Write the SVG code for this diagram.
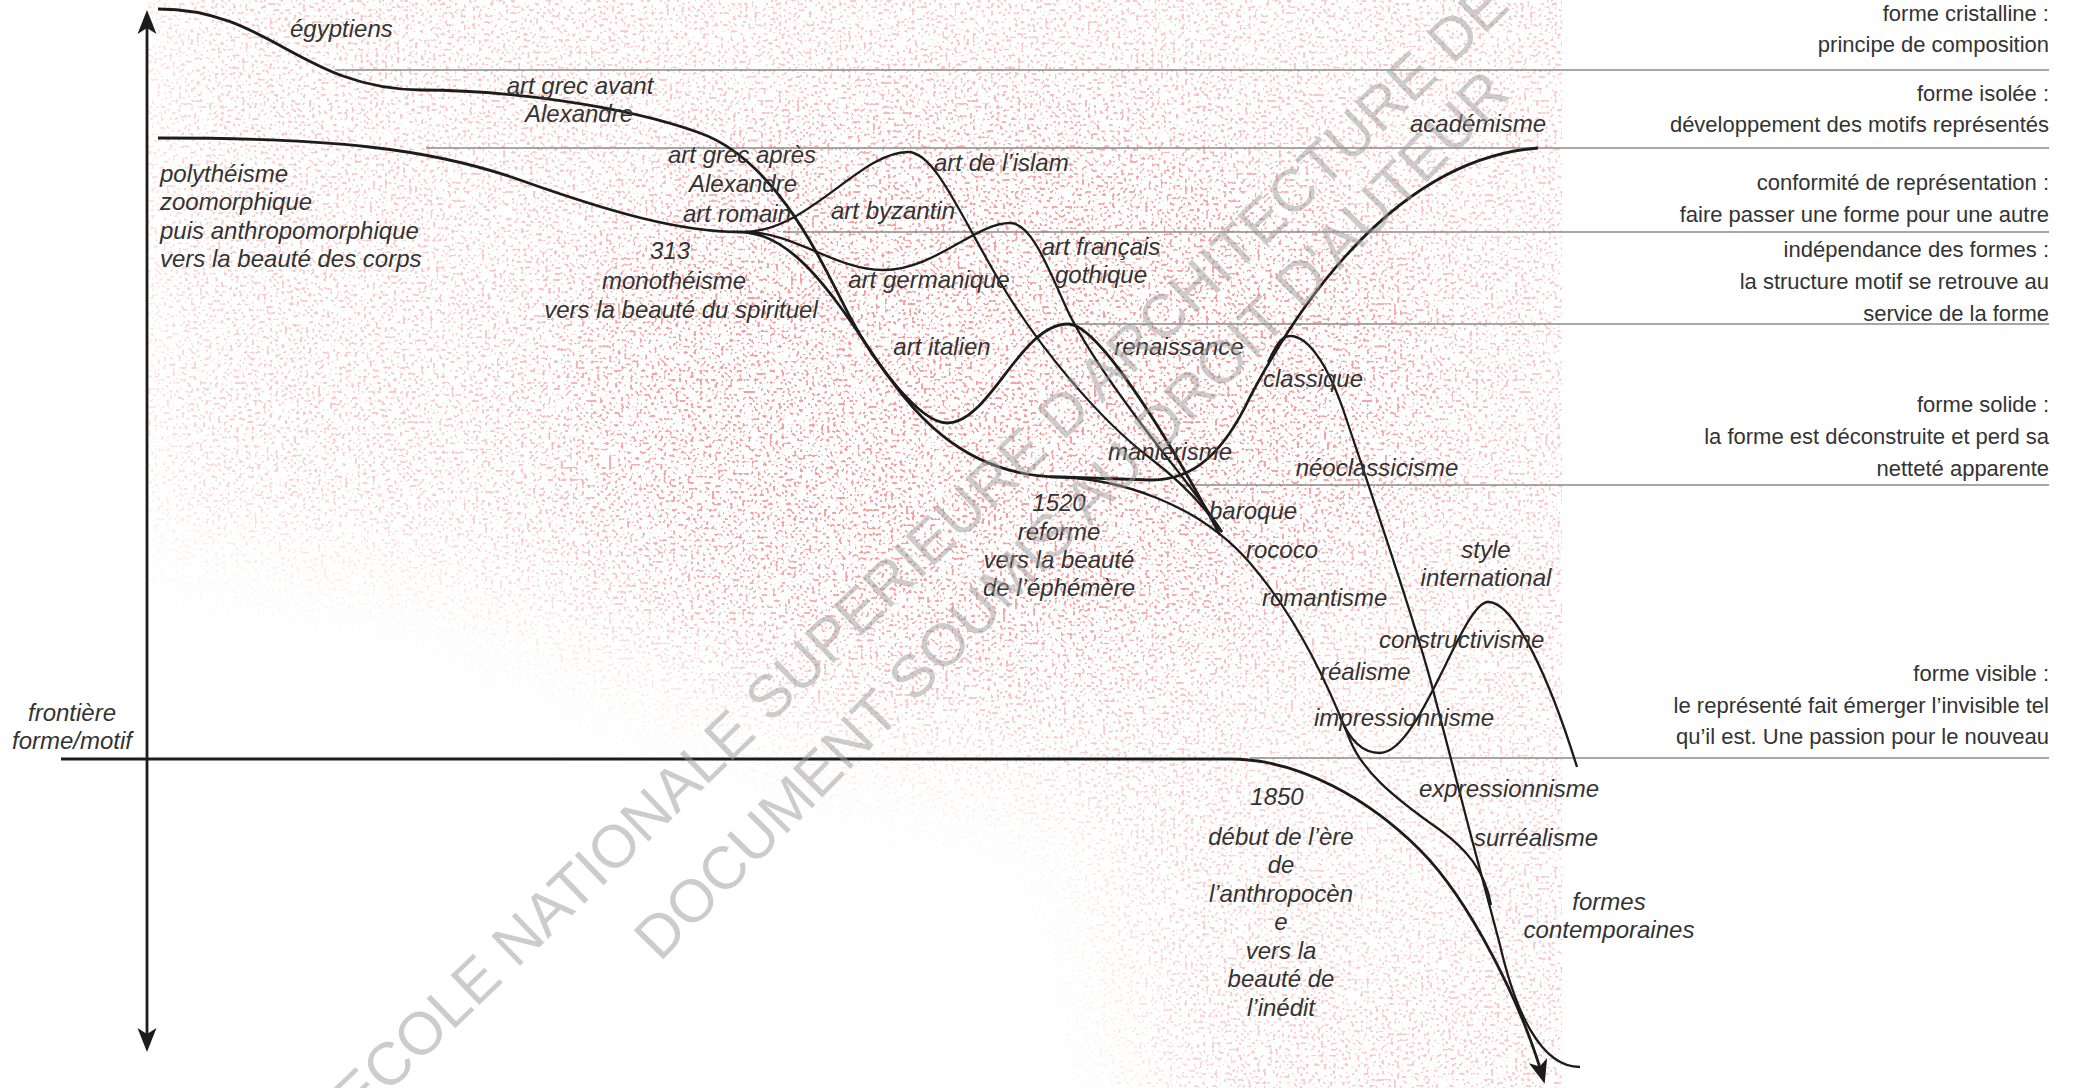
<svg xmlns="http://www.w3.org/2000/svg" width="2077" height="1088" viewBox="0 0 2077 1088">
<defs>
<style>
.lbl{font-family:"Liberation Sans",Arial,sans-serif;font-style:italic;font-size:24px;fill:#333}
.c{text-anchor:middle}
.rt{font-family:"Liberation Sans",Arial,sans-serif;font-size:22px;fill:#333;text-anchor:end}
.curve{fill:none;stroke:#1c1c1c;stroke-width:2.3}
.thick{stroke-width:2.8}
.guide{stroke:#8a8a8a;stroke-width:1.3;fill:none}
.wm{font-family:"Liberation Sans",Arial,sans-serif;font-size:60px;fill:#9a9a9a;fill-opacity:0.5;text-anchor:middle}
</style>
<filter id="speck" x="0" y="0" width="1" height="1" color-interpolation-filters="sRGB">
<feTurbulence type="fractalNoise" baseFrequency="0.33" numOctaves="1" seed="11" result="n"/>
<feColorMatrix in="n" type="matrix" values="0 0 0 0 0.96  0 0 0 0 0.6  0 0 0 0 0.6  14 0 0 0 -8.1"/>
</filter>
<filter id="soft" x="-30%" y="-30%" width="160%" height="160%"><feGaussianBlur stdDeviation="60"/></filter>
<mask id="smask" maskUnits="userSpaceOnUse" x="0" y="0" width="2077" height="1088">
<rect width="2077" height="1088" fill="#000"/>
<g filter="url(#soft)">
<path d="M150,-150 H1800 V1250 H1180 L1100,800 L760,720 L420,560 L150,520 Z" fill="#858585"/>
<ellipse cx="1000" cy="390" rx="430" ry="260" fill="#f0f0f0"/>
<ellipse cx="1380" cy="800" rx="170" ry="180" fill="#6a6a6a"/>
</g>
</mask>
<marker id="arr" viewBox="-26 -11 28 22" markerWidth="28" markerHeight="22" refX="-6" refY="0" markerUnits="userSpaceOnUse" orient="auto-start-reverse">
<path d="M0,0 L-24,-9.5 L-18,0 L-24,9.5 Z" fill="#1c1c1c"/>
</marker>
</defs>
<rect width="2077" height="1088" fill="#fff"/>
<g id="background">
<rect x="148" y="0" width="1414" height="1088" filter="url(#speck)" mask="url(#smask)"/>
</g>
<g id="guides">
<line class="guide" x1="335" y1="70" x2="2049" y2="70"/>
<line class="guide" x1="426" y1="148" x2="2049" y2="148"/>
<line class="guide" x1="783" y1="232" x2="2049" y2="232"/>
<line class="guide" x1="1068" y1="324" x2="2049" y2="324"/>
<line class="guide" x1="1180" y1="485" x2="2049" y2="485"/>
<line class="guide" x1="1250" y1="758" x2="2049" y2="758"/>
</g>
<g id="connectors">
<line id="axis" class="curve thick" x1="147" y1="16" x2="147" y2="1046" marker-start="url(#arr)" marker-end="url(#arr)"/>
<path id="c-egyptiens" class="curve thick" d="M158,9 C270,9 300,88 420,90 C500,90 620,104 700,133 C780,162 825,270 850,317 C875,364 920,423 947,423 C990,423 1020,324 1068,324 C1100,324 1175,450 1220,535"/>
<path id="c-polytheisme" class="curve thick" d="M158,138 C330,138 430,148 520,180 C610,212 680,232 740,232 C790,232 830,290 870,350 C910,410 960,476 1060,477 L1150,480 C1195,481 1225,450 1250,397 C1280,340 1380,160 1538,148"/>
<path id="c-islam" class="curve" d="M745,232 C810,230 860,152 908,152 C935,152 960,215 1000,282 C1040,349 1100,420 1150,458 C1175,477 1200,500 1222,532"/>
<path id="c-germanique" class="curve" d="M745,232 C795,232 835,270 883,270 C935,270 975,223 1010,223 C1030,223 1045,260 1065,305 C1085,350 1130,410 1165,455 C1185,480 1205,505 1222,532"/>
<path id="c-baroque" class="curve" d="M1050,477 C1120,477 1200,505 1250,563 C1300,621 1330,690 1350,740 C1362,770 1390,795 1440,830 C1465,848 1485,870 1491,905"/>
<path id="c-classique" class="curve" d="M1268,362 C1276,346 1281,336 1290,336 C1310,336 1330,370 1345,415 C1365,475 1418,630 1433,690 C1448,750 1480,870 1500,945 C1515,1010 1540,1067 1580,1067"/>
<path id="c-international" class="curve" d="M1340,717 C1350,740 1362,753 1380,753 C1420,753 1462,602 1488,602 C1515,602 1550,680 1577,767"/>
<path id="c-frontiere" class="curve thick" d="M61,759 L1230,759 C1300,759 1370,800 1420,850 C1470,900 1522,1005 1543,1078" marker-end="url(#arr)"/>
</g>
<g id="n-egyptiens"><text class="lbl" x="290" y="37">égyptiens</text></g>
<g id="n-grec-avant"><text class="lbl c" x="580" y="94">art grec avant</text><text class="lbl c" x="579" y="122">Alexandre</text></g>
<g id="n-polytheisme"><text class="lbl" x="160" y="182">polythéisme</text><text class="lbl" x="160" y="210">zoomorphique</text><text class="lbl" x="160" y="239">puis anthropomorphique</text><text class="lbl" x="160" y="267">vers la beauté des corps</text></g>
<g id="n-grec-apres"><text class="lbl c" x="742" y="163">art grec après</text><text class="lbl c" x="743" y="192">Alexandre</text></g>
<g id="n-romain"><text class="lbl c" x="737" y="222">art romain</text></g>
<g id="n-islam"><text class="lbl" x="934" y="171">art de l’islam</text></g>
<g id="n-byzantin"><text class="lbl c" x="893" y="219">art byzantin</text></g>
<g id="n-313"><text class="lbl c" x="670" y="259">313</text><text class="lbl c" x="674" y="289">monothéisme</text><text class="lbl c" x="681" y="318">vers la beauté du spirituel</text></g>
<g id="n-germanique"><text class="lbl c" x="929" y="288">art germanique</text></g>
<g id="n-italien"><text class="lbl c" x="942" y="355">art italien</text></g>
<g id="n-gothique"><text class="lbl c" x="1101" y="255">art français</text><text class="lbl c" x="1101" y="283">gothique</text></g>
<g id="n-academisme"><text class="lbl c" x="1478" y="132">académisme</text></g>
<g id="n-renaissance"><text class="lbl c" x="1179" y="355">renaissance</text></g>
<g id="n-classique"><text class="lbl c" x="1313" y="387">classique</text></g>
<g id="n-manierisme"><text class="lbl c" x="1170" y="460">maniérisme</text></g>
<g id="n-neoclassicisme"><text class="lbl c" x="1377" y="476">néoclassicisme</text></g>
<g id="n-1520"><text class="lbl c" x="1059" y="511">1520</text><text class="lbl c" x="1059" y="540">reforme</text><text class="lbl c" x="1059" y="568">vers la beauté</text><text class="lbl c" x="1059" y="596">de l’éphémère</text></g>
<g id="n-baroque"><text class="lbl" x="1209" y="519">baroque</text></g>
<g id="n-rococo"><text class="lbl" x="1246" y="558">rococo</text></g>
<g id="n-romantisme"><text class="lbl" x="1262" y="606">romantisme</text></g>
<g id="n-style"><text class="lbl c" x="1486" y="558">style</text><text class="lbl c" x="1486" y="586">international</text></g>
<g id="n-constructivisme"><text class="lbl" x="1379" y="648">constructivisme</text></g>
<g id="n-realisme"><text class="lbl" x="1320" y="680">réalisme</text></g>
<g id="n-impressionnisme"><text class="lbl" x="1314" y="726">impressionnisme</text></g>
<g id="n-expressionnisme"><text class="lbl" x="1419" y="797">expressionnisme</text></g>
<g id="n-surrealisme"><text class="lbl" x="1474" y="846">surréalisme</text></g>
<g id="n-contemporaines"><text class="lbl c" x="1609" y="910">formes</text><text class="lbl c" x="1609" y="938">contemporaines</text></g>
<g id="n-1850"><text class="lbl c" x="1277" y="805">1850</text><text class="lbl c" x="1281" y="845">début de l’ère</text><text class="lbl c" x="1281" y="873">de</text><text class="lbl c" x="1281" y="902">l’anthropocèn</text><text class="lbl c" x="1281" y="930">e</text><text class="lbl c" x="1281" y="959">vers la</text><text class="lbl c" x="1281" y="987">beauté de</text><text class="lbl c" x="1281" y="1016">l’inédit</text></g>
<g id="n-frontiere"><text class="lbl c" x="72" y="721">frontière</text><text class="lbl c" x="72" y="749">forme/motif</text></g>
<g id="n-cristalline"><text class="rt" x="2049" y="21">forme cristalline :</text><text class="rt" x="2049" y="52">principe de composition</text></g>
<g id="n-isolee"><text class="rt" x="2049" y="101">forme isolée :</text><text class="rt" x="2049" y="132">développement des motifs représentés</text></g>
<g id="n-conformite"><text class="rt" x="2049" y="190">conformité de représentation :</text><text class="rt" x="2049" y="222">faire passer une forme pour une autre</text></g>
<g id="n-independance"><text class="rt" x="2049" y="257">indépendance des formes :</text><text class="rt" x="2049" y="289">la structure motif se retrouve au</text><text class="rt" x="2049" y="321">service de la forme</text></g>
<g id="n-solide"><text class="rt" x="2049" y="412">forme solide :</text><text class="rt" x="2049" y="444">la forme est déconstruite et perd sa</text><text class="rt" x="2049" y="476">netteté apparente</text></g>
<g id="n-visible"><text class="rt" x="2049" y="681">forme visible :</text><text class="rt" x="2049" y="713">le représenté fait émerger l’invisible tel</text><text class="rt" x="2049" y="744">qu’il est. Une passion pour le nouveau</text></g>
<g id="watermark">
<text class="wm" transform="translate(935,565) rotate(-44)">ECOLE NATIONALE SUPERIEURE D'ARCHITECTURE DE</text>
<text class="wm" transform="translate(1086,529) rotate(-45.5)">DOCUMENT SOUMIS AU DROIT D'AUTEUR</text>
</g>
</svg>
